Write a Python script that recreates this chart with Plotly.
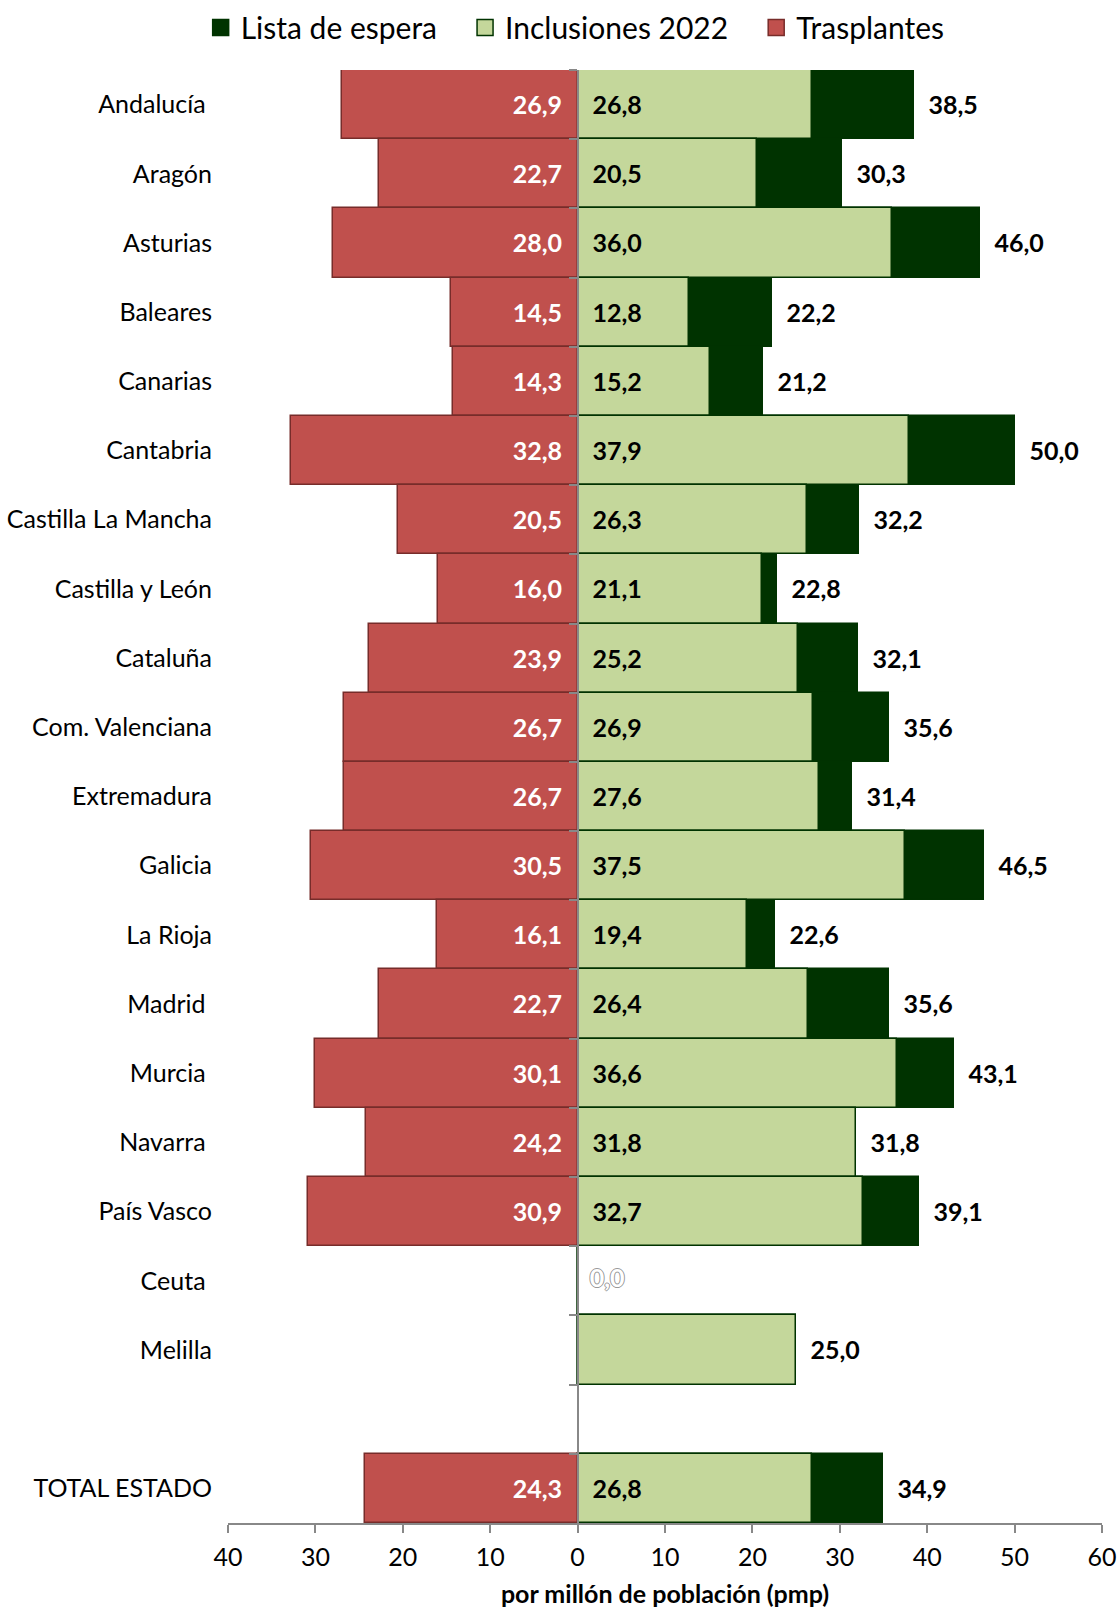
import plotly.graph_objects as go

categories = ["Andalucía ", "Aragón", "Asturias", "Baleares", "Canarias", "Cantabria",
              "Castilla La Mancha", "Castilla y León", "Cataluña", "Com. Valenciana",
              "Extremadura", "Galicia", "La Rioja", "Madrid ", "Murcia ", "Navarra ",
              "País Vasco", "Ceuta ", "Melilla", " ", "TOTAL ESTADO"]

trasplantes = [26.9, 22.7, 28.0, 14.5, 14.3, 32.8, 20.5, 16.0, 23.9, 26.7, 26.7, 30.5,
               16.1, 22.7, 30.1, 24.2, 30.9, None, None, None, 24.3]
inclusiones = [26.8, 20.5, 36.0, 12.8, 15.2, 37.9, 26.3, 21.1, 25.2, 26.9, 27.6, 37.5,
               19.4, 26.4, 36.6, 31.8, 32.7, 0.0, 25.0, None, 26.8]
lista_espera = [38.5, 30.3, 46.0, 22.2, 21.2, 50.0, 32.2, 22.8, 32.1, 35.6, 31.4, 46.5,
                22.6, 35.6, 43.1, 31.8, 39.1, 0.0, 25.0, None, 34.9]

x_tickvals = [-40, -30, -20, -10, 0, 10, 20, 30, 40, 50, 60]
x_ticktext = ["40", "30", "20", "10", "0", "10", "20", "30", "40", "50", "60"]

FONT = "Lato"
NB = "\u00a0"
FS = 25

C_LISTA = "#003300"
C_INCL = "#C4D79B"
C_TRAS = "#C0504D"
C_TRAS_LINE = "#772C2A"


def fmt(v):
    return f"{v:.1f}".replace(".", ",")


tras_x = [-v if v is not None else None for v in trasplantes]
tras_text = [(fmt(v) + NB * 2) if v else "" for v in trasplantes]
incl_text = [(NB * 2 + fmt(v)) if v else "" for v in inclusiones]
incl_text[categories.index("Melilla")] = ""
lista_text = [(NB * 2 + fmt(v)) if v else "" for v in lista_espera]

fig = go.Figure()

fig.add_trace(go.Bar(
    name="Lista de espera", y=categories, x=lista_espera, orientation="h",
    marker=dict(color=C_LISTA, line=dict(color=C_LISTA, width=1.5)),
    text=lista_text, textposition="outside", constraintext="none",
    textfont=dict(family=FONT, size=FS, color="#000000", weight="bold"),
    cliponaxis=False, hoverinfo="skip", showlegend=False))

fig.add_trace(go.Bar(
    name="Inclusiones 2022", y=categories, x=inclusiones, orientation="h",
    marker=dict(color=C_INCL, line=dict(color=C_LISTA, width=1.5)),
    text=incl_text, textposition="inside", insidetextanchor="start", constraintext="none",
    textfont=dict(family=FONT, size=FS, color="#000000", weight="bold"),
    hoverinfo="skip", showlegend=False))

fig.add_trace(go.Bar(
    name="Trasplantes", y=categories, x=tras_x, orientation="h",
    marker=dict(color=C_TRAS, line=dict(color=C_TRAS_LINE, width=1.5)),
    text=tras_text, textposition="inside", insidetextanchor="start", constraintext="none",
    textfont=dict(family=FONT, size=FS, color="#FFFFFF", weight="bold"),
    hoverinfo="skip", showlegend=False))

# hollow "0,0" label for Ceuta
ceuta_i = categories.index("Ceuta ")
fig.add_trace(go.Scatter(
    x=[inclusiones[ceuta_i]], y=[categories[ceuta_i]], mode="text",
    text=[NB * 2 + fmt(inclusiones[ceuta_i])], textposition="middle right",
    textfont=dict(family=FONT, size=FS, color="#FFFFFF", weight="bold",
                  shadow="1px 0 #999, -1px 0 #999, 0 1px #999, 0 -1px #999"),
    showlegend=False, hoverinfo="skip", cliponaxis=False))

# invisible trace to carry the zero-line axis
fig.add_trace(go.Scatter(
    x=[0] * len(categories), y=categories, yaxis="y2", mode="markers",
    marker=dict(opacity=0, size=1), showlegend=False, hoverinfo="skip"))

# legend proxies (larger square symbols)
legend_items = [("Lista de espera", C_LISTA, C_LISTA),
                ("Inclusiones 2022", C_INCL, C_LISTA),
                ("Trasplantes", C_TRAS, C_TRAS_LINE)]
for i, (name, fill, line) in enumerate(legend_items):
    suffix = NB * 3 if i < len(legend_items) - 1 else ""
    fig.add_trace(go.Scatter(
        x=[None], y=[None], mode="markers", name=name + suffix,
        marker=dict(symbol="square", size=17, color=fill, line=dict(color=line, width=1.5)),
        hoverinfo="skip"))

n = len(categories)
fig.update_layout(
    width=1119, height=1611,
    paper_bgcolor="white", plot_bgcolor="white",
    barmode="overlay", bargap=0,
    margin=dict(l=228, r=17, t=70, b=88),
    font=dict(family=FONT, size=FS, color="#000000"),
    legend=dict(orientation="h", xref="container", yref="container",
                x=0.514, xanchor="center", y=0.983, yanchor="middle",
                font=dict(family=FONT, size=30, color="#000000"),
                traceorder="normal", itemwidth=30),
    xaxis=dict(range=[-40, 60], tickvals=x_tickvals, ticktext=x_ticktext,
               ticks="outside", ticklen=8, tickcolor="#888888", tickwidth=1.5,
               showline=True, linecolor="#888888", linewidth=1.5,
               showgrid=False, zeroline=False, automargin=False,
               ticklabelstandoff=3,
               tickfont=dict(family=FONT, size=FS),
               title=dict(text="por millón de población (pmp)",
                          font=dict(family=FONT, size=25, weight="bold"), standoff=16)),
    yaxis=dict(type="category", categoryorder="array", categoryarray=categories,
               range=[n - 0.5, -0.5], autorange=False, automargin=False,
               showline=False, ticks="", showgrid=False,
               zeroline=False, ticklabelstandoff=15,
               tickfont=dict(family=FONT, size=FS)),
    yaxis2=dict(type="category", overlaying="y", anchor="free", position=0.4,
                matches="y", side="left", showticklabels=False, ticks="outside",
                tickson="boundaries", ticklen=8, tickcolor="#888888", tickwidth=1.5,
                showline=True, linecolor="#888888", linewidth=2, showgrid=False,
                zeroline=False, automargin=False),
)

fig.write_html("out.html", config={"displayModeBar": False},
               post_script="document.body.style.margin='0';")
